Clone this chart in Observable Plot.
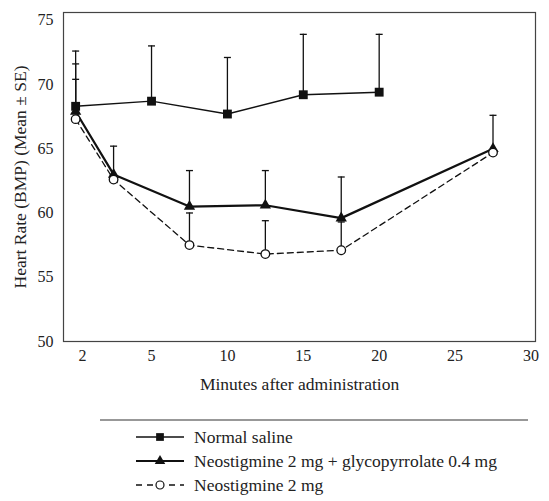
<!DOCTYPE html>
<html>
<head>
<meta charset="utf-8">
<script src="https://cdn.jsdelivr.net/npm/d3@7"></script>
<script src="https://cdn.jsdelivr.net/npm/@observablehq/plot@0.6"></script>
<style>
  body { margin: 0; background: #fff; }
  #chart svg { display: block; }
  g[aria-label="x-axis label"] text, g[aria-label="y-axis label"] text { font-size: 17.5px; }
  #legend { display: block; font-family: "Liberation Serif", serif; }
</style>
</head>
<body>
<div id="chart"></div>
<svg id="legend" width="549" height="101"></svg>
<script>
// ---- data ----
const seriesNames = ["Normal saline", "Neostigmine 2 mg + glycopyrrolate 0.4 mg", "Neostigmine 2 mg"];

const timeSaline = [0, 5, 10, 15, 20];
const saline = [68.3, 68.7, 67.7, 69.2, 69.4];
const salineUpper = [72.6, 73.0, 72.1, 73.9, 73.9];

const timeNeo = [0, 2.5, 7.5, 12.5, 17.5, 27.5];
const neoGly = [67.9, 63.0, 60.5, 60.6, 59.6, 65.0];
const neoGlyUpper = [71.6, 65.2, 63.3, 63.3, 62.8, 67.6];
const neo = [67.3, 62.6, 57.5, 56.8, 57.1, 64.7];
const neoUpper = [70.4, null, 60.0, 59.4, 59.3, null];

const xTickValues = [0.45, 5, 10, 15, 20, 25, 30];
const xTickLabels = ["2", "5", "10", "15", "20", "25", "30"];
const yTickValues = [50, 55, 60, 65, 70, 75];

// ---- build tables ----
const rows = (times, vals, ups, s) => times.map((t, i) => ({series: s, t, v: vals[i], up: ups[i]}));
const dSaline = rows(timeSaline, saline, salineUpper, seriesNames[0]);
const dNeoGly = rows(timeNeo, neoGly, neoGlyUpper, seriesNames[1]);
const dNeo = rows(timeNeo, neo, neoUpper, seriesNames[2]);
const all = [...dSaline, ...dNeoGly, ...dNeo];
const withErr = all.filter(d => d.up != null);

// error-bar cap symbol (horizontal line)
const cap = {
  draw(ctx, size) {
    const r = Math.sqrt(size / Math.PI);
    ctx.moveTo(-r, 0);
    ctx.lineTo(r, 0);
  }
};

const plot = Plot.plot({
  width: 549,
  height: 400,
  marginTop: 12,
  marginLeft: 63,
  marginRight: 14,
  marginBottom: 59,
  style: {fontFamily: "Liberation Serif, serif", fontSize: "16px", color: "#222", background: "#fff"},
  x: {domain: [-0.8, 30.3]},
  y: {domain: [50, 75.6]},
  marks: [
    Plot.frame({stroke: "#444", strokeWidth: 1.2}),
    Plot.axisX({
      ticks: xTickValues,
      tickFormat: d => xTickLabels[xTickValues.indexOf(d)],
      tickSize: 0,
      tickPadding: 8,
      label: "Minutes after administration",
      labelAnchor: "center",
      labelArrow: "none",
      labelOffset: 48
    }),
    Plot.axisY({
      ticks: yTickValues,
      tickSize: 0,
      tickPadding: 10,
      label: "Heart Rate (BMP) (Mean ± SE)",
      labelAnchor: "center",
      labelArrow: "none",
      labelOffset: 50
    }),
    // error bars
    Plot.ruleX(withErr, {x: "t", y1: "v", y2: "up", stroke: "#111", strokeWidth: 1.3}),
    Plot.dot(withErr, {x: "t", y: "up", symbol: cap, r: 3.5, stroke: "#111", strokeWidth: 1.3, fill: "none"}),
    // lines
    Plot.line(dSaline, {x: "t", y: "v", stroke: "#111", strokeWidth: 1.4}),
    Plot.line(dNeo, {x: "t", y: "v", stroke: "#111", strokeWidth: 1.3, strokeDasharray: "6,4"}),
    Plot.line(dNeoGly, {x: "t", y: "v", stroke: "#111", strokeWidth: 2.2}),
    // markers
    Plot.dot(dSaline, {x: "t", y: "v", symbol: "square", r: 5, fill: "#111", stroke: "none"}),
    Plot.dot(dNeoGly, {x: "t", y: "v", symbol: "triangle", r: 4.2, fill: "#111", stroke: "none"}),
    Plot.dot(dNeo, {x: "t", y: "v", symbol: "circle", r: 4.3, fill: "#fff", stroke: "#111", strokeWidth: 1.3})
  ]
});
document.getElementById("chart").appendChild(plot);

// ---- legend ----
const lg = d3.select("#legend");
lg.append("line").attr("x1", 100).attr("x2", 528).attr("y1", 20).attr("y2", 20)
  .attr("stroke", "#333").attr("stroke-width", 1.2);
const rowY = [37, 61, 85];
const styles = [
  {w: 1.4, dash: null, sym: d3.symbolSquare, size: 60, fill: "#111"},
  {w: 2.2, dash: null, sym: d3.symbolTriangle, size: 48, fill: "#111"},
  {w: 1.3, dash: "6,5", sym: d3.symbolCircle, size: 50, fill: "#fff"}
];
seriesNames.forEach((name, i) => {
  const y = rowY[i], s = styles[i];
  const ln = lg.append("line").attr("x1", 136).attr("x2", 184).attr("y1", y).attr("y2", y)
    .attr("stroke", "#111").attr("stroke-width", s.w);
  if (s.dash) ln.attr("stroke-dasharray", s.dash);
  lg.append("path").attr("d", d3.symbol(s.sym, s.size)())
    .attr("transform", `translate(160,${y})`)
    .attr("fill", s.fill).attr("stroke", i === 2 ? "#111" : "none").attr("stroke-width", 1.2);
  lg.append("text").attr("x", 194).attr("y", y).attr("dy", "0.35em")
    .attr("font-size", 17.5).attr("fill", "#222").text(name);
});
</script>
</body>
</html>
